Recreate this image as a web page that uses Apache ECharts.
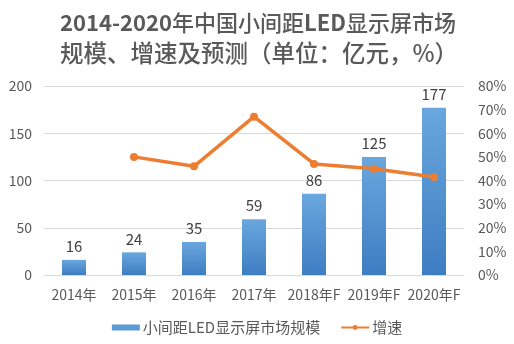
<!DOCTYPE html>
<html>
<head>
<meta charset="utf-8">
<script src="https://cdn.jsdelivr.net/npm/echarts@6/dist/echarts.min.js"></script>
<style>
html,body{margin:0;padding:0;background:#fff;}
#main{width:514px;height:344px;}
</style>
</head>
<body>
<div id="main"></div>
<script>
// 数据
var years = ['2014年', '2015年', '2016年', '2017年', '2018年F', '2019年F', '2020年F']
var scale = [16, 24, 35, 59, 86, 125, 177]
var growth = [null, 50, 46, 67, 47, 45, 41.5]
var FONT = 'Noto Sans CJK SC'

var myChart = echarts.init(document.getElementById('main'))
myChart.setOption({
	backgroundColor: '#fff',
	textStyle: { fontFamily: FONT },
	title: {
		text: '{b|2014-2020}{n|年中国小间距}{b|LED}{n|显示屏市场}\n{m|规模、增速及预测（单位：亿元，%）}',
		left: 55,
		top: 2,
		textStyle: {
			fontFamily: FONT,
			fontSize: 22,
			color: '#595959',
			lineHeight: 31,
			rich: {
				b: { fontFamily: FONT, fontSize: 22, fontWeight: 'bold', color: '#595959', lineHeight: 31 },
				n: { fontFamily: FONT, fontSize: 22, fontWeight: 500, color: '#595959', lineHeight: 31 },
				m: { fontFamily: FONT, fontSize: 23.5, fontWeight: 500, color: '#595959', lineHeight: 31 }
			}
		}
	},
	legend: {
		bottom: 4,
		left: 'center',
		itemGap: 20,
		textStyle: { fontSize: 15, color: '#595959', fontFamily: FONT, padding: [0, 0, 0, -2] },
		data: [
			{ name: '小间距LED显示屏市场规模', icon: 'rect', itemStyle: { color: '#5B9BD5' } },
			{ name: '增速' }
		],
		itemWidth: 28,
		itemHeight: 6
	},
	grid: { left: 44, right: 50, top: 86, bottom: 69 },
	xAxis: {
		type: 'category',
		data: years,
		axisTick: { show: false },
		axisLine: { lineStyle: { color: '#D9D9D9' } },
		axisLabel: { color: '#595959', fontSize: 14, margin: 13, interval: 0 }
	},
	yAxis: [{
		type: 'value',
		min: 0, max: 200, interval: 50,
		axisLabel: { color: '#595959', fontSize: 14, margin: 12 },
		splitLine: { lineStyle: { color: '#D9D9D9' } },
		axisLine: { show: false },
		axisTick: { show: false }
	}, {
		type: 'value',
		min: 0, max: 80, interval: 10,
		axisLabel: { color: '#595959', fontSize: 14, margin: 14, formatter: '{value}%' },
		splitLine: { show: false },
		axisLine: { show: false },
		axisTick: { show: false }
	}],
	series: [{
		name: '小间距LED显示屏市场规模',
		type: 'bar',
		data: scale,
		barWidth: 24,
		itemStyle: {
			color: new echarts.graphic.LinearGradient(0, 0, 0, 1, [
				{ offset: 0, color: '#6AA7DE' },
				{ offset: 1, color: '#3E7DC2' }
			])
		},
		label: { show: true, position: 'top', color: '#404040', fontSize: 15, distance: 6 }
	}, {
		name: '增速',
		type: 'line',
		yAxisIndex: 1,
		data: growth,
		symbol: 'circle',
		symbolSize: 8,
		lineStyle: { color: '#ED7D31', width: 3.5 },
		itemStyle: { color: '#ED7D31' }
	}]
})
</script>
</body>
</html>
